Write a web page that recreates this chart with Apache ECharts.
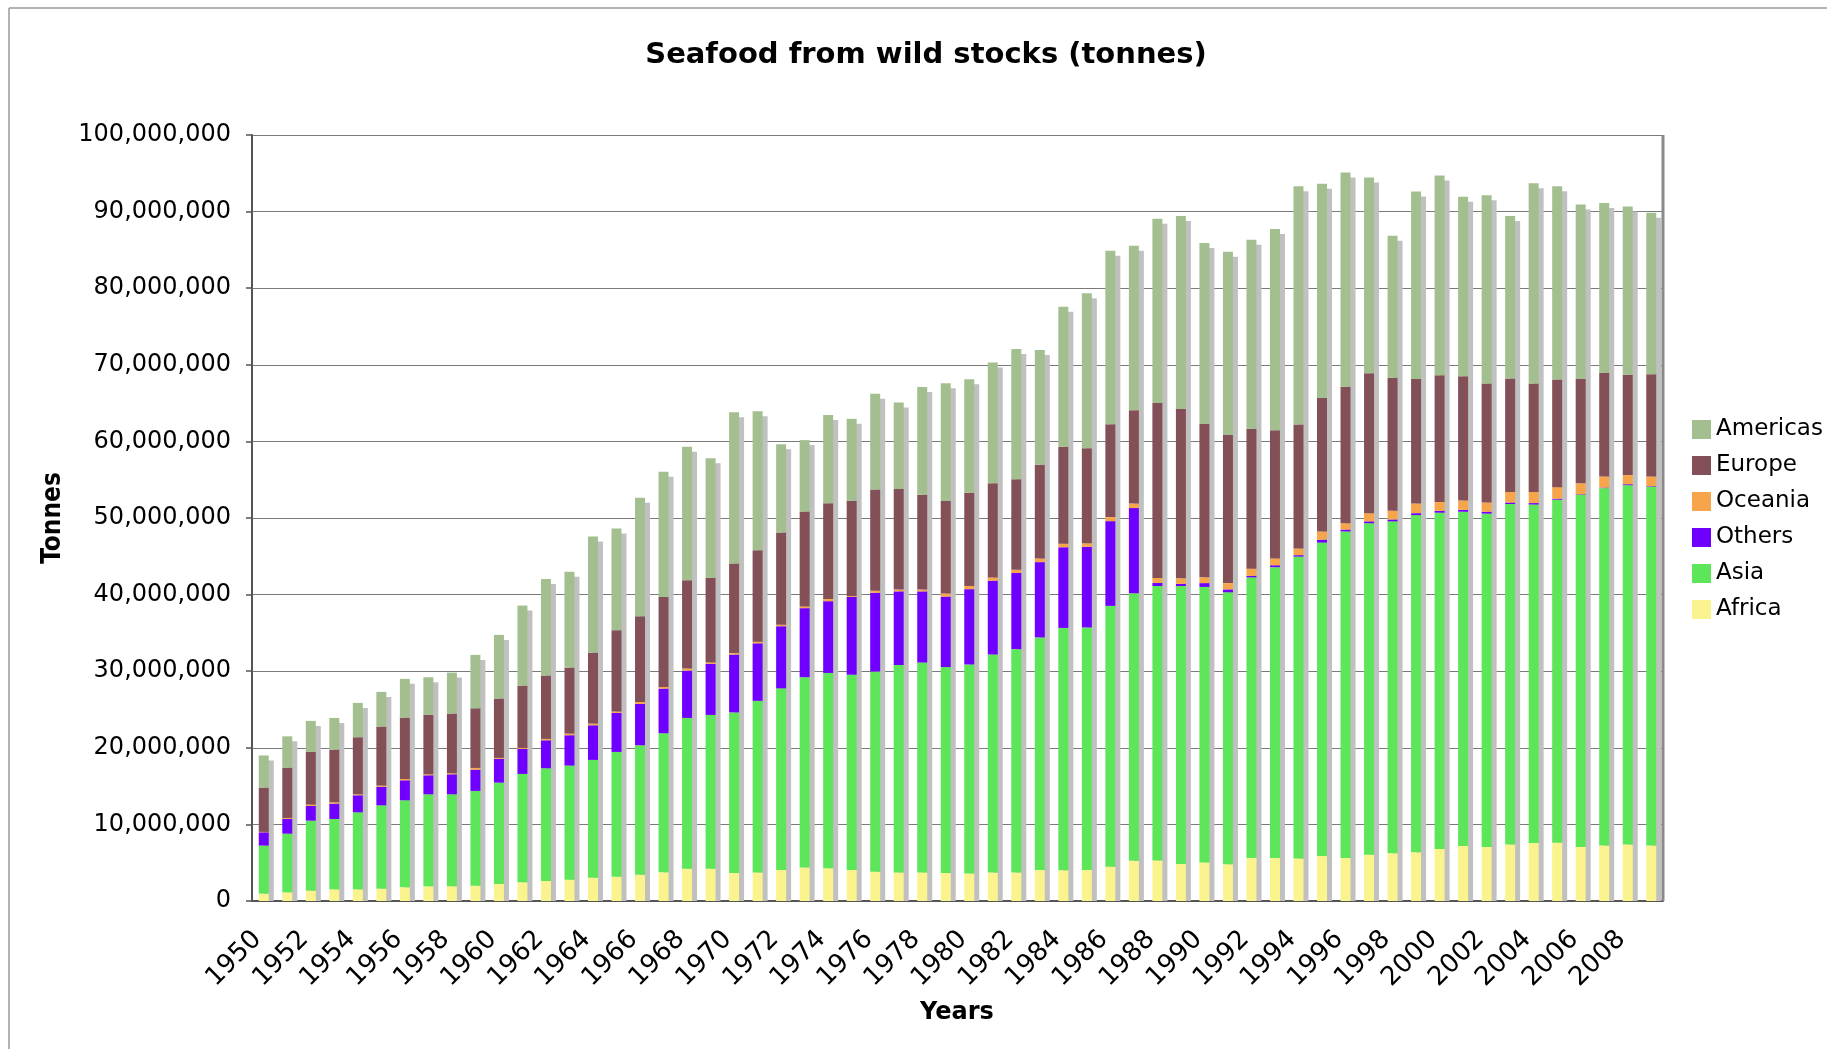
<!DOCTYPE html>
<html>
<head>
<meta charset="utf-8">
<title>Seafood from wild stocks (tonnes)</title>
<script src="https://cdn.jsdelivr.net/npm/echarts@6/dist/echarts.min.js"></script>
<style>
  html, body { margin: 0; padding: 0; background: #ffffff; }
  #chart { width: 1827px; height: 1049px; }
</style>
</head>
<body>
<div id="chart"></div>
<script>
// Catch from wild stocks by region, million tonnes per year
const years = [];
for (let y = 1950; y <= 2009; y++) years.push(String(y));

const africa = [
  0.96, 1.13, 1.35, 1.52, 1.52, 1.61, 1.78, 1.92, 1.92, 2.00,
  2.22, 2.44, 2.61, 2.79, 3.05, 3.18, 3.44, 3.74, 4.22, 4.22,
  3.64, 3.73, 4.05, 4.37, 4.28, 4.05, 3.82, 3.73, 3.73, 3.64,
  3.59, 3.71, 3.71, 4.06, 4.00, 4.06, 4.47, 5.24, 5.29, 4.82,
  5.04, 4.79, 5.60, 5.60, 5.54, 5.86, 5.60, 6.05, 6.23, 6.36,
  6.80, 7.18, 7.05, 7.37, 7.56, 7.62, 7.05, 7.24, 7.37, 7.24
];
const asia = [
  6.27, 7.66, 9.14, 9.19, 10.06, 10.88, 11.37, 12.01, 12.01, 12.37,
  13.23, 14.15, 14.72, 14.89, 15.37, 16.28, 16.89, 18.16, 19.68, 20.07,
  20.98, 22.40, 23.71, 24.85, 25.49, 25.49, 26.13, 27.08, 27.40, 26.90,
  27.29, 28.47, 29.17, 30.35, 31.65, 31.65, 34.06, 34.94, 35.83, 36.30,
  35.96, 35.51, 36.65, 37.98, 39.42, 40.93, 42.64, 43.26, 43.33, 44.02,
  43.89, 43.64, 43.52, 44.46, 44.20, 44.77, 45.97, 46.66, 46.91, 46.85
];
const others = [
  1.74, 1.92, 1.92, 2.00, 2.22, 2.40, 2.61, 2.48, 2.61, 2.78,
  3.10, 3.26, 3.65, 3.96, 4.52, 5.09, 5.40, 5.83, 6.18, 6.66,
  7.56, 7.51, 8.11, 9.01, 9.37, 10.15, 10.29, 9.61, 9.29, 9.20,
  9.83, 9.64, 9.94, 9.83, 10.53, 10.53, 11.06, 11.11, 0.41, 0.29,
  0.50, 0.38, 0.19, 0.25, 0.19, 0.38, 0.25, 0.25, 0.25, 0.25,
  0.25, 0.25, 0.25, 0.19, 0.19, 0.13, 0.07, 0.07, 0.13, 0.07
];
const oceania = [
  0.05, 0.13, 0.17, 0.18, 0.13, 0.17, 0.17, 0.13, 0.13, 0.22,
  0.13, 0.13, 0.18, 0.21, 0.22, 0.18, 0.26, 0.22, 0.26, 0.18,
  0.18, 0.22, 0.18, 0.23, 0.28, 0.14, 0.27, 0.23, 0.23, 0.41,
  0.41, 0.42, 0.42, 0.47, 0.47, 0.47, 0.53, 0.59, 0.65, 0.71,
  0.75, 0.82, 0.95, 0.88, 0.88, 1.07, 0.82, 1.07, 1.13, 1.26,
  1.14, 1.20, 1.20, 1.38, 1.45, 1.51, 1.44, 1.45, 1.19, 1.26
];
const europe = [
  5.78, 6.57, 6.88, 6.88, 7.45, 7.71, 8.01, 7.75, 7.80, 7.79,
  7.75, 8.14, 8.27, 8.62, 9.27, 10.62, 11.19, 11.75, 11.54, 11.06,
  11.70, 11.93, 12.06, 12.38, 12.51, 12.42, 13.20, 13.15, 12.38, 12.06,
  12.17, 12.29, 11.82, 12.23, 12.64, 12.41, 12.12, 12.18, 22.82, 22.12,
  20.03, 19.33, 18.26, 16.75, 16.19, 17.44, 17.82, 18.26, 17.38, 16.25,
  16.56, 16.24, 15.55, 14.80, 14.17, 14.04, 13.61, 13.54, 13.10, 13.35
];
const americas = [
  4.20, 4.09, 4.05, 4.13, 4.48, 4.53, 5.06, 4.92, 5.35, 6.97,
  8.31, 10.45, 12.62, 12.50, 15.15, 13.28, 15.45, 16.33, 17.41, 15.62,
  19.75, 18.16, 11.52, 9.33, 11.52, 10.70, 12.52, 11.29, 14.06, 15.38,
  14.83, 15.76, 17.00, 15.00, 18.30, 20.23, 22.64, 21.47, 24.06, 25.17,
  23.61, 23.93, 24.69, 26.26, 31.10, 27.96, 27.96, 25.57, 18.52, 24.49,
  26.07, 23.43, 24.56, 21.22, 26.13, 25.25, 22.79, 22.16, 21.98, 21.09
];

const MILLION = 1e6;
const regions = [
  { name: 'Africa',   values: africa,   color: '#fbf48e' },
  { name: 'Asia',     values: asia,     color: '#5ee65a' },
  { name: 'Others',   values: others,   color: '#6f00ff' },
  { name: 'Oceania',  values: oceania,  color: '#f7a54b' },
  { name: 'Europe',   values: europe,   color: '#845057' },
  { name: 'Americas', values: americas, color: '#a4bf8f' }
];
const legendOrder = ['Americas', 'Europe', 'Oceania', 'Others', 'Asia', 'Africa'];

// stack height per year, used for the drop shadow behind each column
const totals = years.map((_, i) =>
  regions.reduce((s, r) => s + r.values[i] * MILLION, 0));

const FONT = "'DejaVu Sans', Verdana, sans-serif";
const BAR_RATIO = 0.425;

const chart = echarts.init(document.getElementById('chart'), null, { renderer: 'canvas' });

const barSeries = regions.map(r => ({
  name: r.name,
  type: 'bar',
  stack: 'catch',
  barWidth: (BAR_RATIO * 100) + '%',
  z: 3,
  itemStyle: { color: r.color },
  emphasis: { disabled: true },
  data: r.values.map(v => v * MILLION)
}));

const shadowSeries = {
  type: 'custom',
  z: 2,
  silent: true,
  data: totals.map((t, i) => [i, t]),
  renderItem(params, api) {
    const top = api.coord([api.value(0), api.value(1)]);
    const base = api.coord([api.value(0), 0]);
    const w = api.size([1, 0])[0] * BAR_RATIO;
    return {
      type: 'rect',
      shape: { x: top[0] - w / 2 + 5, y: top[1] + 5, width: w, height: base[1] - top[1] - 5 },
      style: { fill: '#c0c0c0' }
    };
  }
};

chart.setOption({
  animation: false,
  backgroundColor: '#ffffff',
  grid: { left: 252, right: 164, top: 135, bottom: 148, show: false },
  legend: {
    data: legendOrder,
    orient: 'vertical',
    left: 1692,
    top: 418,
    padding: 0,
    itemWidth: 19,
    itemHeight: 19,
    itemGap: 13,
    icon: 'rect',
    textStyle: { fontFamily: FONT, fontSize: 23, color: '#000' },
    selectedMode: false
  },
  xAxis: {
    type: 'category',
    data: years,
    boundaryGap: true,
    axisLine: { lineStyle: { color: '#555', width: 2 } },
    axisTick: { interval: 0, length: 8, lineStyle: { color: '#555', width: 1.5 } },
    axisLabel: {
      interval: 1,
      rotate: 45,
      margin: 28,
      padding: [0, 9, 0, 0],
      fontFamily: FONT,
      fontSize: 26,
      color: '#000'
    },
    splitLine: { show: false }
  },
  yAxis: {
    type: 'value',
    min: 0,
    max: 100 * MILLION,
    interval: 10 * MILLION,
    axisLine: { show: true, lineStyle: { color: '#555', width: 2 } },
    axisTick: { show: true, length: 6, lineStyle: { color: '#555', width: 1.5 } },
    axisLabel: {
      margin: 21,
      fontFamily: FONT,
      fontSize: 24,
      color: '#000',
      formatter: v => v.toLocaleString('en-US')
    },
    splitLine: { lineStyle: { color: '#7a7a7a', width: 1.2 } }
  },
  graphic: [
    // outer frame
    { type: 'line', shape: { x1: 9, y1: 8, x2: 1827, y2: 8 }, style: { stroke: '#9a9a9a', lineWidth: 1.5 }, z: 10 },
    { type: 'line', shape: { x1: 9, y1: 8, x2: 9, y2: 1049 }, style: { stroke: '#9a9a9a', lineWidth: 1.5 }, z: 10 },
    // right edge of the plot area
    { type: 'line', shape: { x1: 1663, y1: 135, x2: 1663, y2: 901 }, style: { stroke: '#8a8a8a', lineWidth: 3 }, z: 10 },
    {
      type: 'text', x: 926, y: 55, z: 10,
      style: { text: 'Seafood from wild stocks (tonnes)', fontFamily: FONT, fontWeight: 'bold', fontSize: 29,
               fill: '#000', align: 'center', verticalAlign: 'middle' }
    },
    {
      type: 'text', x: 957, y: 1013, z: 10,
      style: { text: 'Years', fontFamily: FONT, fontWeight: 'bold', fontSize: 24,
               fill: '#000', align: 'center', verticalAlign: 'middle' }
    },
    {
      type: 'text', x: 53, y: 518, rotation: Math.PI / 2, z: 10,
      style: { text: 'Tonnes', fontFamily: "'DejaVu Sans Condensed', 'Liberation Sans Narrow', sans-serif",
               fontWeight: 'bold', fontSize: 26, fill: '#000', align: 'center', verticalAlign: 'middle' }
    }
  ],
  series: [shadowSeries].concat(barSeries)
});
</script>
</body>
</html>
